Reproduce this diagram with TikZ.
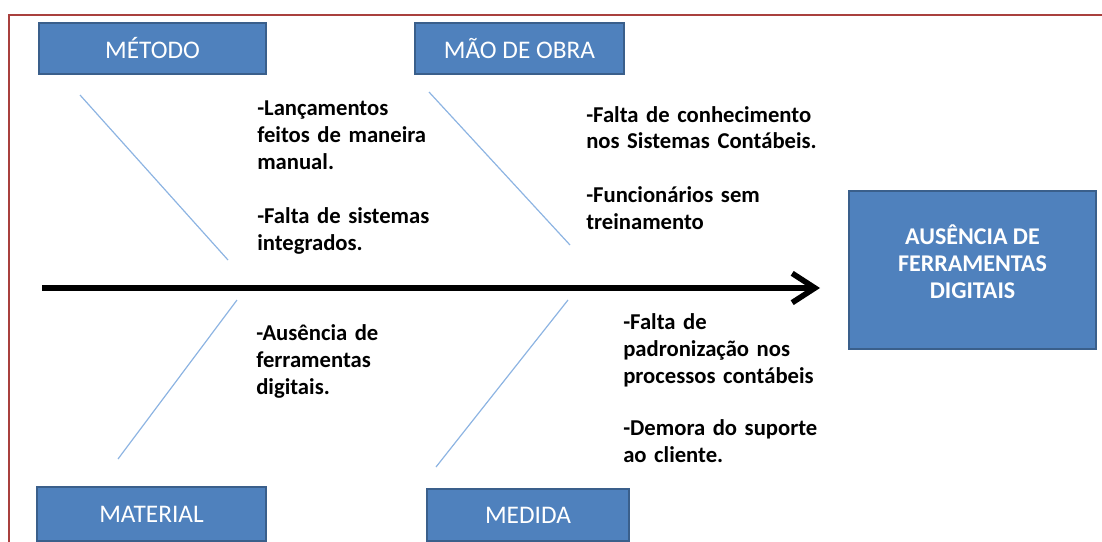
\documentclass[tikz,border=0pt]{standalone}
\usepackage{fontspec}
\setmainfont{Carlito}
\usetikzlibrary{arrows.meta}
\definecolor{boxblue}{HTML}{4F81BD}
\definecolor{boxedge}{HTML}{3A5F8B}
\definecolor{bonecol}{HTML}{8DB4E2}
\definecolor{framered}{HTML}{A9403E}

\begin{document}
\begin{tikzpicture}[x=0.75pt,y=-0.75pt,
    catbox/.style={draw=boxedge,line width=1.5pt,fill=boxblue,text=white,inner sep=0pt,
      font=\fontsize{19}{22}\selectfont},
    cause/.style={anchor=base west,align=left,text width=200pt,inner sep=0pt,
      font=\bfseries\fontsize{17}{20.25}\selectfont},
    bone/.style={draw=bonecol,line width=0.9pt}]
    \useasboundingbox (0,0) rectangle (1102,542);
    \clip (0,0) rectangle (1102,542);
    % frame
    \draw[framered,line width=1.5pt] (8.5,560) -- (8.5,15) -- (1120,15);
    % category boxes
    \node[catbox,minimum width=170pt,minimum height=38pt] (metodo) at (152.5,48.5) {MÉTODO};
    \node[catbox,minimum width=157pt,minimum height=38pt] (maoobra) at (519.5,48.5) {MÃO DE OBRA};
    \node[catbox,minimum width=172pt,minimum height=40pt] (material) at (151.5,514) {MATERIAL};
    \node[catbox,minimum width=151.5pt,minimum height=39pt] (medida) at (528,515) {MEDIDA};
    \node[catbox,minimum width=185pt,minimum height=118.5pt,align=center,text depth=13pt,
      font=\bfseries\fontsize{18}{20.25}\selectfont] (efeito) at (972.5,270)
      {AUSÊNCIA DE\\FERRAMENTAS\\DIGITAIS};
    % spine
    \coordinate (tail) at (42,288);
    \coordinate (head) at (820,288);
    \draw[line width=4.2pt,-{Straight Barb[length=17pt,width=22pt]}] (tail) -- (head);
    % bones
    \coordinate (m1) at (80,95);   \coordinate (m2) at (228,260);
    \coordinate (o1) at (429,92);  \coordinate (o2) at (570,245);
    \coordinate (a1) at (237,300); \coordinate (a2) at (118,459);
    \coordinate (d1) at (568,300); \coordinate (d2) at (436,467);
    \draw[bone] (m1) -- (m2);
    \draw[bone] (o1) -- (o2);
    \draw[bone] (a1) -- (a2);
    \draw[bone] (d1) -- (d2);
    % causes
    \node[cause] (lanc) at (257,115) {-Lançamentos\\feitos de maneira\\manual.};
    \node[cause] (sist) at (257,223) {-Falta de sistemas\\integrados.};
    \node[cause] (conh) at (586,122) {-Falta de conhecimento\\nos Sistemas Contábeis.};
    \node[cause] (func) at (586,202) {-Funcionários sem\\treinamento};
    \node[cause] (ausf) at (256,340) {-Ausência de\\ferramentas\\digitais.};
    \node[cause] (padr) at (623,329) {-Falta de\\padronização nos\\processos contábeis};
    \node[cause] (supo) at (623,435) {-Demora do suporte\\ao cliente.};
\end{tikzpicture}
\end{document}
